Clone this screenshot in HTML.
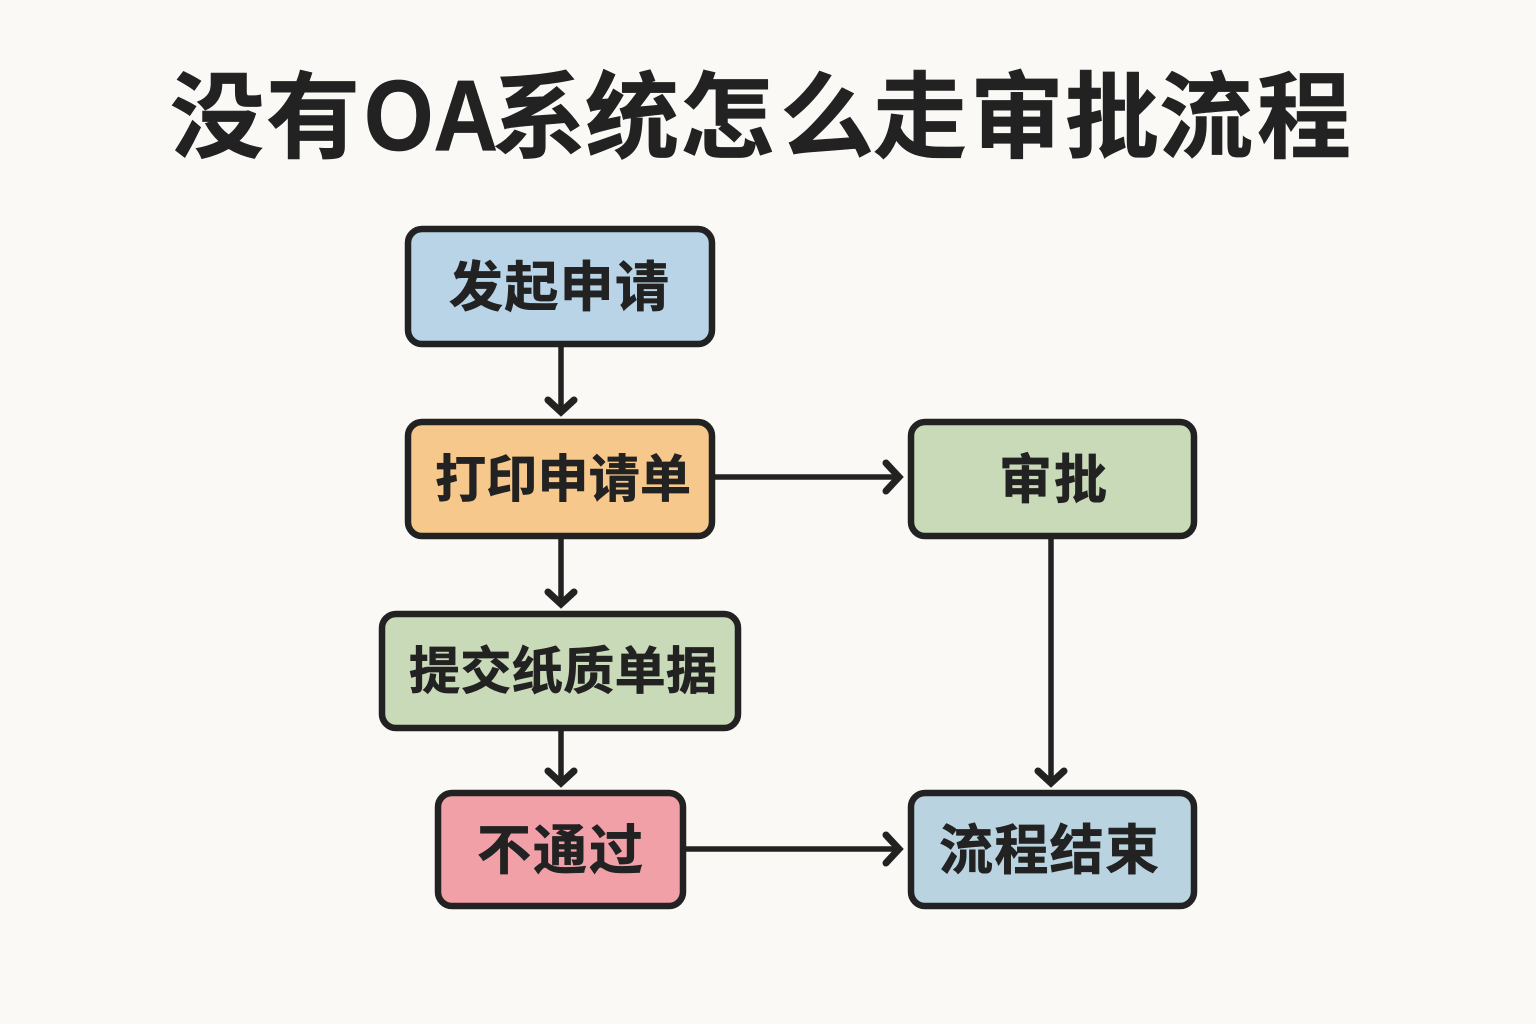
<!DOCTYPE html>
<html lang="zh">
<head>
<meta charset="utf-8">
<title>没有OA系统怎么走审批流程</title>
<style>
html,body{margin:0;padding:0;background:#faf9f6;}
svg{display:block;}
text{font-family:"Liberation Sans","Noto Sans CJK SC",sans-serif;font-weight:700;fill:#222222;stroke:#222222;stroke-width:0.7;}
.box{stroke:#222222;stroke-width:6.5;}
.shaft{stroke:#222222;stroke-width:5.5;fill:none;stroke-linecap:butt;}
.head{stroke:#222222;stroke-width:7;fill:none;stroke-linecap:round;stroke-linejoin:miter;}
</style>
</head>
<body>
<svg width="1536" height="1024" viewBox="0 0 1536 1024" xmlns="http://www.w3.org/2000/svg">
<rect width="1536" height="1024" fill="#faf9f6"/>
<text x="170 266" y="150" font-size="94">没有</text>
<text x="364" y="150" font-size="100" textLength="134" lengthAdjust="spacingAndGlyphs">OA</text>
<text x="492 585 680 780 873 970 1065 1159 1257" y="150" font-size="94">系统怎么走审批流程</text>

<g class="shaft">
<path d="M561 345V412"/>
<path d="M561 537V604"/>
<path d="M561 729V783"/>
<path d="M715 477H899"/>
<path d="M686 849H899"/>
<path d="M1051 537V783"/>
</g>
<g class="head">
<path d="M548 400L561 412L574 400"/>
<path d="M548 592L561 604L574 592"/>
<path d="M548 771L561 783L574 771"/>
<path d="M886 463L899 477L886 491"/>
<path d="M886 835L899 849L886 863"/>
<path d="M1038 771L1051 783L1064 771"/>
</g>

<rect class="box" x="408" y="229" width="304" height="115" rx="14" fill="#b8d4e6"/>
<rect class="box" x="408" y="422" width="304" height="114" rx="14" fill="#f7c88c"/>
<rect class="box" x="382" y="614" width="356" height="114" rx="14" fill="#c9dab8"/>
<rect class="box" x="438" y="793" width="245" height="113" rx="14" fill="#f2a0a8"/>
<rect class="box" x="911" y="422" width="283" height="114" rx="14" fill="#c9dab8"/>
<rect class="box" x="911" y="793" width="283" height="113" rx="14" fill="#b9d4e0"/>

<text x="449" y="306" font-size="54" textLength="220" lengthAdjust="spacing">发起申请</text>
<text x="435" y="497" font-size="51" textLength="256" lengthAdjust="spacing">打印申请单</text>
<text x="409" y="689" font-size="51" textLength="308" lengthAdjust="spacing">提交纸质单据</text>
<text x="477" y="869" font-size="54" textLength="166" lengthAdjust="spacing">不通过</text>
<text x="999" y="498" font-size="53" textLength="108" lengthAdjust="spacing">审批</text>
<text x="939" y="869" font-size="54" textLength="220" lengthAdjust="spacing">流程结束</text>
</svg>
</body>
</html>
